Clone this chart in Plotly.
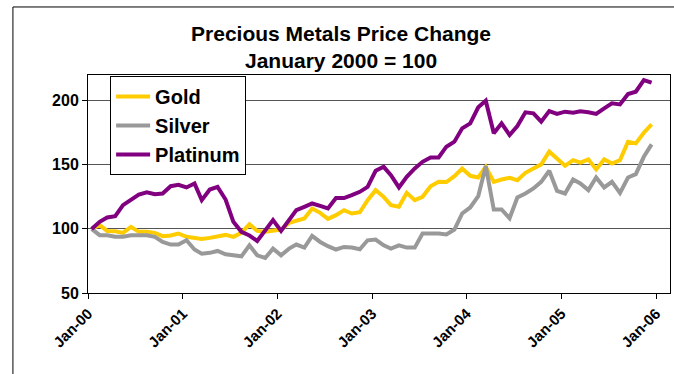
import pandas as pd
import plotly.graph_objects as go

# Monthly index levels, January 2000 = 100 (Jan-2000 .. Dec-2005)
months = pd.date_range("2000-01-01", periods=72, freq="MS") + pd.Timedelta(days=14)

gold = [
    100.0, 102.9, 98.4, 98.2, 96.9, 101.6, 97.7, 97.7, 96.9, 94.3, 94.8, 96.4,
    93.8, 93.0, 92.2, 93.0, 94.5, 95.3, 93.8, 96.9, 103.6, 98.4, 97.7, 98.4,
    99.5, 104.7, 106.3, 108.1, 115.9, 112.5, 107.8, 110.7, 114.6, 112.0, 113.0, 122.4,
    130.2, 125.0, 118.5, 117.2, 128.1, 122.4, 125.0, 133.3, 136.7, 136.5, 141.1, 147.1,
    141.4, 140.1, 148.4, 136.7, 138.5, 139.8, 138.0, 143.7, 147.1, 150.3, 160.2, 154.9,
    149.2, 153.6, 151.6, 154.2, 146.4, 154.2, 151.0, 153.6, 168.0, 166.7, 175.0, 181.5,
]

silver = [
    100.0, 95.1, 95.1, 93.8, 93.8, 95.1, 95.1, 95.1, 93.8, 89.8, 87.8, 87.8,
    91.1, 83.9, 80.7, 81.3, 82.8, 80.2, 79.4, 78.6, 87.2, 79.4, 77.3, 84.6,
    79.4, 84.6, 87.8, 85.4, 94.5, 89.8, 86.5, 83.9, 85.9, 85.4, 84.1, 91.1,
    91.7, 87.2, 84.6, 87.2, 85.4, 85.4, 96.4, 96.4, 96.4, 95.6, 99.5, 112.0,
    116.7, 125.5, 149.0, 115.1, 115.1, 108.3, 124.5, 127.6, 131.5, 136.7, 145.3, 129.7,
    127.6, 138.5, 135.4, 130.2, 140.1, 132.3, 136.7, 128.1, 140.1, 142.7, 156.2, 165.9,
]

platinum = [
    100.0, 105.5, 108.9, 109.9, 118.5, 122.9, 126.8, 128.6, 127.1, 127.6, 133.3, 134.4,
    132.3, 135.4, 122.4, 130.7, 132.8, 122.9, 105.5, 97.7, 94.8, 90.6, 99.0, 106.8,
    98.4, 107.6, 114.6, 117.2, 119.8, 118.0, 115.9, 124.0, 124.0, 126.3, 128.9, 132.8,
    145.3, 148.4, 141.9, 132.3, 140.6, 147.1, 152.3, 155.7, 155.7, 164.1, 168.0, 178.4,
    182.3, 194.8, 200.0, 174.5, 182.3, 173.2, 180.2, 190.9, 190.1, 183.6, 191.9, 189.6,
    191.4, 190.6, 191.7, 190.9, 189.6, 194.0, 197.9, 197.1, 205.2, 207.0, 216.1, 214.1,
]

series_names = ["Gold", "Silver", "Platinum"]
series_colors = ["#FFCC00", "#999999", "#800080"]

FONT = "Liberation Sans, Arial, sans-serif"

fig = go.Figure()
for name, values, color in zip(series_names, [gold, silver, platinum], series_colors):
    fig.add_trace(go.Scatter(
        x=months, y=values, name=name, mode="lines",
        line=dict(color=color, width=4),
    ))

fig.update_layout(
    width=674, height=374,
    margin=dict(l=88, r=4, t=75, b=81),
    paper_bgcolor="white", plot_bgcolor="white",
    font=dict(family=FONT, color="black"),
    title=dict(
        text="<b>Precious Metals Price Change</b><br><b>January 2000 = 100</b>",
        x=0.506, xanchor="center", xref="container",
        y=0.89, yanchor="top", yref="container",
        font=dict(size=21, family=FONT, color="black"),
    ),
    legend=dict(
        x=0.038, y=0.995, xanchor="left", yanchor="top",
        bgcolor="white", bordercolor="black", borderwidth=1,
        font=dict(size=20, family=FONT, weight="bold"),
        itemwidth=34,
    ),
    showlegend=True,
)

fig.update_xaxes(
    type="date",
    range=["2000-01-01", "2006-02-24"],
    tick0="2000-01-01", dtick="M12", tickformat="%b-%y",
    tickangle=-45,
    ticks="outside", ticklen=5, tickcolor="black",
    showline=True, linecolor="black", linewidth=1, mirror=True,
    showgrid=False, zeroline=False,
    tickfont=dict(size=15, family=FONT, weight="bold"),
)

fig.update_yaxes(
    range=[50, 220],
    tickvals=[50, 100, 150, 200],
    ticks="outside", ticklen=5, tickcolor="black",
    showline=True, linecolor="black", linewidth=1, mirror=True,
    showgrid=True, gridcolor="#555555", gridwidth=1, zeroline=False,
    tickfont=dict(size=16, family=FONT, weight="bold"),
)

# outer chart frame
fig.add_shape(
    type="rect", xref="paper", yref="paper",
    x0=-0.129, x1=1.03, y0=-0.6, y1=1.312,
    line=dict(color="black", width=1), fillcolor="rgba(0,0,0,0)",
    layer="above",
)

fig.write_html("out.html")
